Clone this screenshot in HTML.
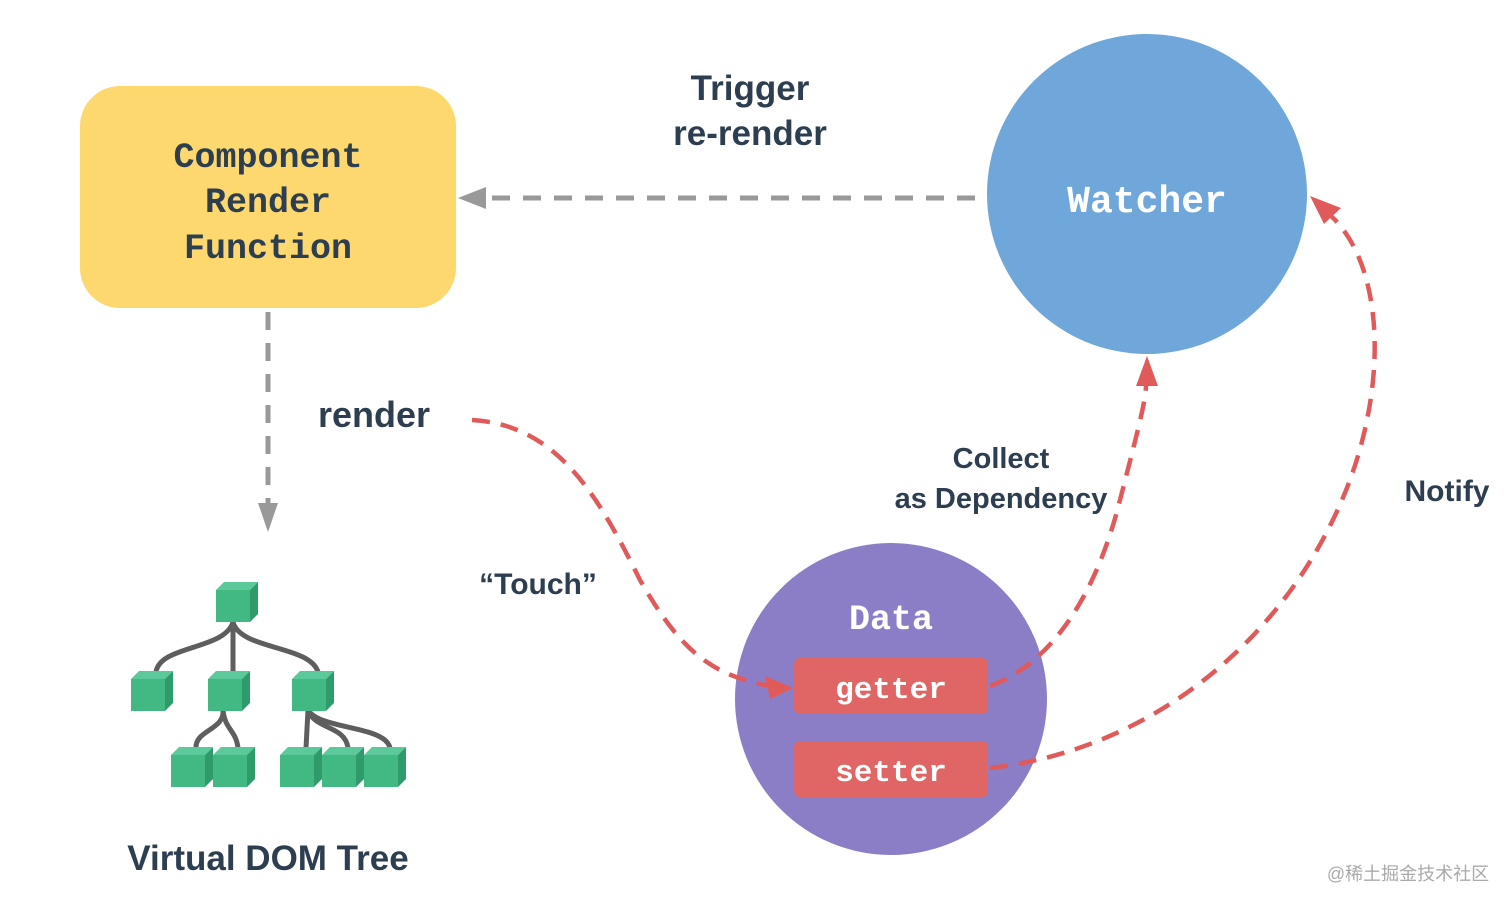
<!DOCTYPE html>
<html><head><meta charset="utf-8"><style>
html,body{margin:0;padding:0;background:#fff;width:1512px;height:908px;overflow:hidden}
svg{display:block}
.s{font-family:"Liberation Sans","Noto Sans CJK SC",sans-serif;font-weight:bold;fill:#2c3e50}
.m{font-family:"Liberation Mono","DejaVu Sans Mono",monospace;font-weight:bold}
</style></head><body>
<svg width="1512" height="908" viewBox="0 0 1512 908" xmlns="http://www.w3.org/2000/svg">
<defs>
<g id="cube">
<polygon points="0,8 34,8 34,40 0,40" fill="#42b983"/>
<polygon points="0,8 8,0 42,0 34,8" fill="#5cc99a"/>
<polygon points="34,8 42,0 42,32 34,40" fill="#2f9b6a"/>
</g>
</defs>
<rect x="80" y="86" width="376" height="222" rx="40" fill="#fdd86e"/>
<text class="m" x="268" y="167" font-size="35" fill="#2c3e50" text-anchor="middle">Component</text>
<text class="m" x="268" y="212" font-size="35" fill="#2c3e50" text-anchor="middle">Render</text>
<text class="m" x="268" y="258" font-size="35" fill="#2c3e50" text-anchor="middle">Function</text>
<circle cx="1147" cy="194" r="160" fill="#6fa7da"/>
<text class="m" x="1147" y="212" font-size="38" fill="#fff" text-anchor="middle">Watcher</text>
<line x1="975" y1="198" x2="484" y2="198" stroke="#999" stroke-width="5" stroke-dasharray="18,13"/>
<polygon points="458,198 486,187 486,209" fill="#999"/>
<line x1="268" y1="312" x2="268" y2="505" stroke="#999" stroke-width="5" stroke-dasharray="18,13"/>
<polygon points="268,532 258,503 278,503" fill="#999"/>
<text class="s" x="750" y="100" font-size="35" text-anchor="middle">Trigger</text>
<text class="s" x="750" y="145" font-size="35" text-anchor="middle">re-render</text>
<text class="s" x="374" y="427" font-size="36" text-anchor="middle">render</text>
<text class="s" x="538" y="594" font-size="30" text-anchor="middle">“Touch”</text>
<text class="s" x="1001" y="468" font-size="29" text-anchor="middle">Collect</text>
<text class="s" x="1001" y="508" font-size="29" text-anchor="middle">as Dependency</text>
<text class="s" x="1447" y="501" font-size="30" text-anchor="middle">Notify</text>
<text class="s" x="268" y="870" font-size="35" text-anchor="middle">Virtual DOM Tree</text>
<circle cx="891" cy="699" r="156" fill="#8b7ec6"/>
<text class="m" x="891" y="629" font-size="35" fill="#fff" text-anchor="middle">Data</text>
<rect x="794" y="658" width="194" height="56" rx="6" fill="#e06565"/>
<rect x="794" y="741" width="194" height="56" rx="6" fill="#e06565"/>
<text class="m" x="891" y="698" font-size="31" fill="#fff" text-anchor="middle">getter</text>
<text class="m" x="891" y="781" font-size="31" fill="#fff" text-anchor="middle">setter</text>
<g fill="none" stroke="#e05a5a" stroke-width="4.5" stroke-dasharray="18,11">
<path d="M472,420 C560,425 600,500 640,580 C680,650 710,675 770,686"/>
<path d="M990,686 C1060,660 1100,580 1120,500 C1138,430 1146,400 1146,385"/>
<path d="M990,768 C1150,750 1290,640 1350,480 C1390,370 1380,260 1330,215"/>
</g>
<polygon points="793,688 765,676 770,699" fill="#e05a5a"/>
<polygon points="1147,356 1136,386 1158,386" fill="#e05a5a"/>
<polygon points="1310,196 1324,224 1341,208" fill="#e05a5a"/>
<g fill="none" stroke="#5e5e5e" stroke-width="5">
<path d="M233,622 C225,650 160,645 156,672"/>
<path d="M233,622 L233,672"/>
<path d="M233,622 C240,650 310,645 318,672"/>
<path d="M223,710 C225,730 195,730 196,748"/>
<path d="M223,710 C225,730 236,730 238,748"/>
<path d="M308,710 L306,748"/>
<path d="M308,710 C315,730 345,725 348,748"/>
<path d="M308,710 C320,730 385,725 390,748"/>
</g>
<use href="#cube" x="216" y="582"/>
<use href="#cube" x="131" y="671"/>
<use href="#cube" x="208" y="671"/>
<use href="#cube" x="292" y="671"/>
<use href="#cube" x="171" y="747"/>
<use href="#cube" x="213" y="747"/>
<use href="#cube" x="280" y="747"/>
<use href="#cube" x="322" y="747"/>
<use href="#cube" x="364" y="747"/>
<text x="1408" y="880" font-family="'Liberation Sans','Noto Sans CJK SC',sans-serif" font-size="18" fill="#aaa" text-anchor="middle">@稀土掘金技术社区</text>
</svg>
</body></html>
